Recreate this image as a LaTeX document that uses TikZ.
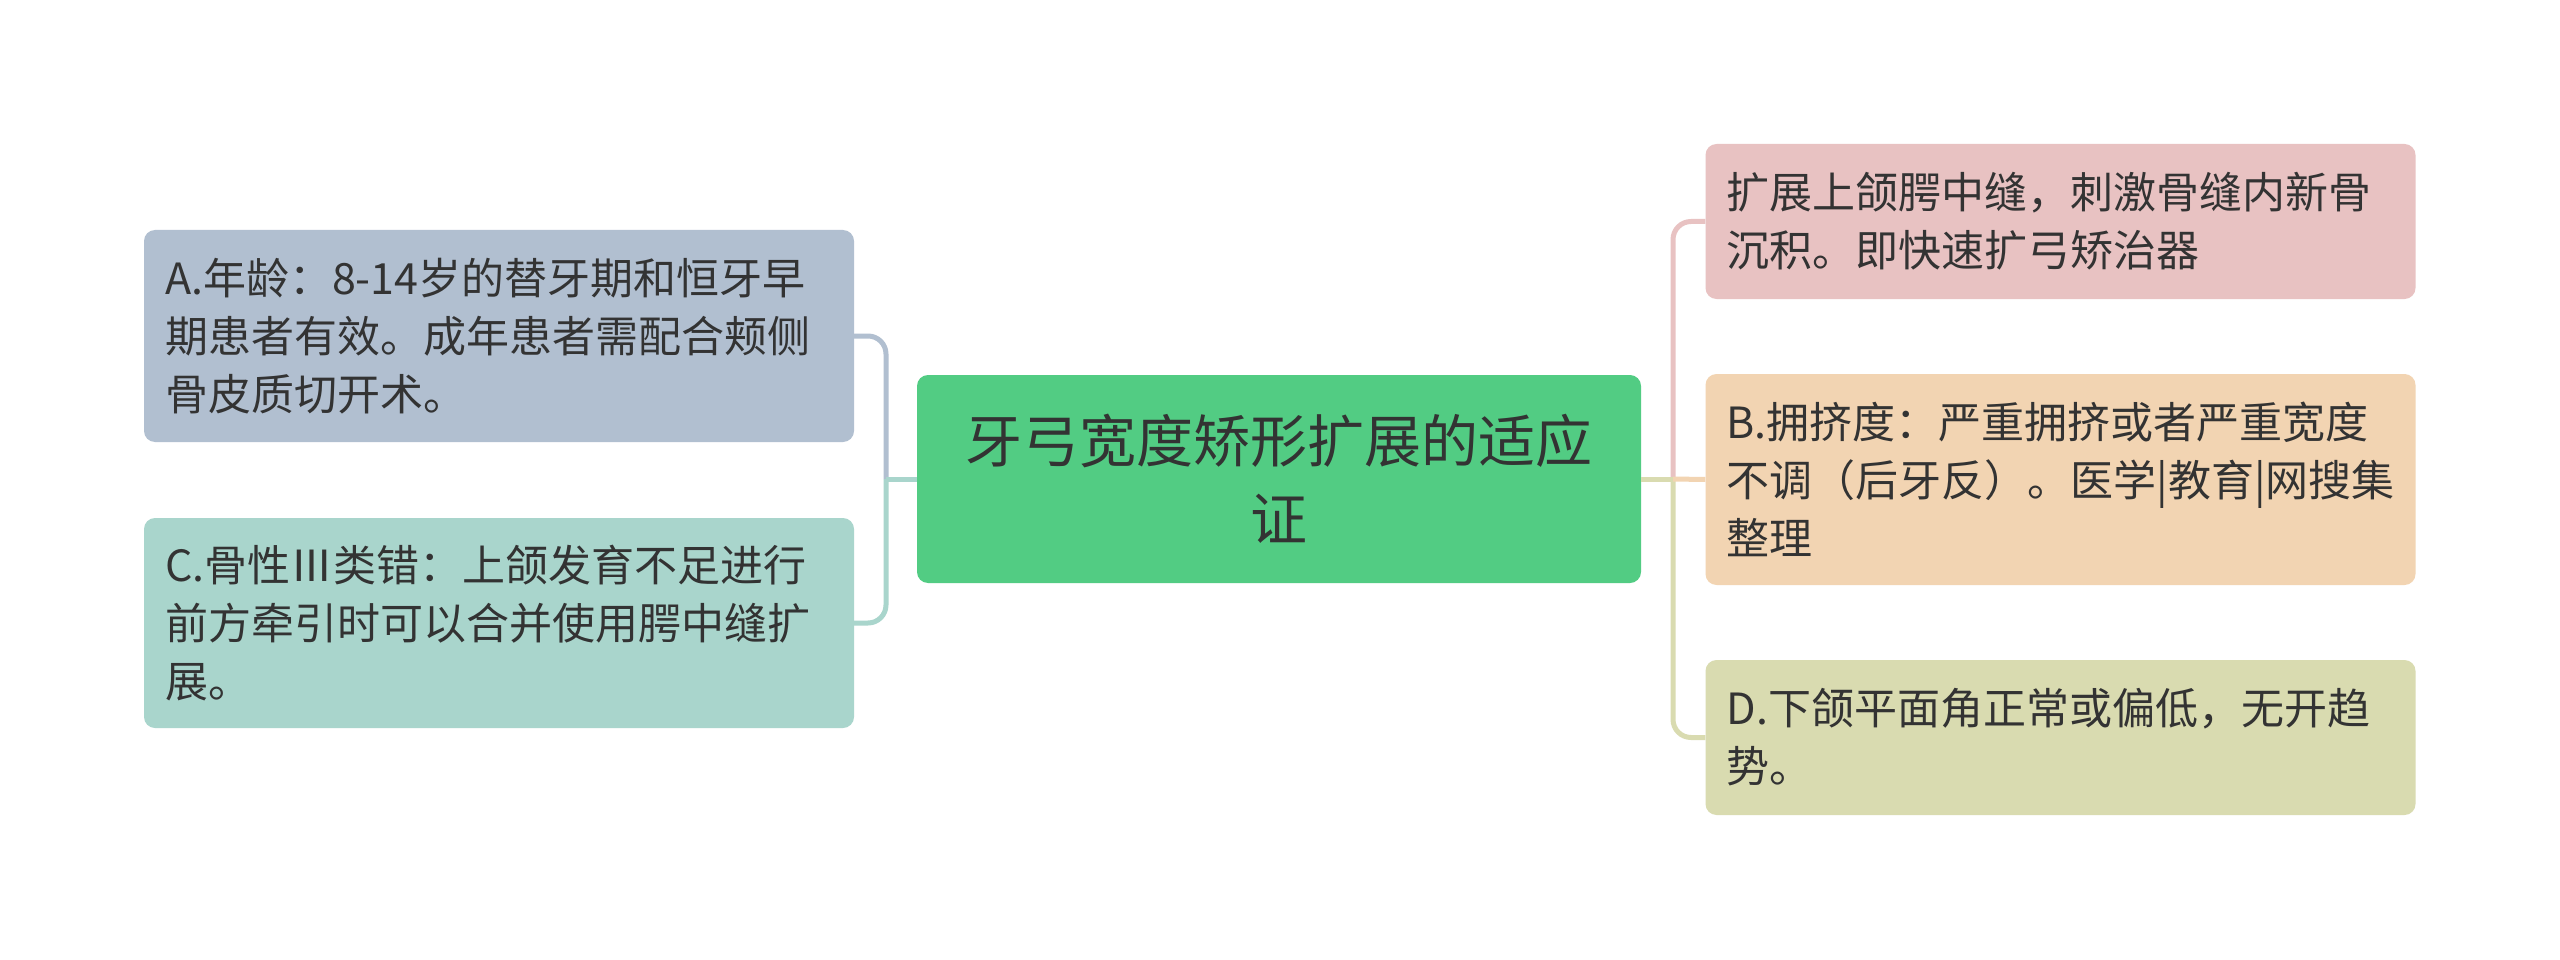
\documentclass[tikz,border=0pt]{standalone}
\usepackage{fontspec}
\setmainfont{Noto Sans CJK SC}
\definecolor{cgreen}{HTML}{52CC83}
\definecolor{ca}{HTML}{B1BFD0}
\definecolor{cc}{HTML}{A9D5CC}
\definecolor{cr}{HTML}{E8C2C2}
\definecolor{cb}{HTML}{F2D4B2}
\definecolor{cd}{HTML}{D9DBB0}
\definecolor{ctext}{HTML}{333333}
\tikzset{
  leaf/.style={rounded corners=11pt, minimum width=710pt, text width=668pt, inner xsep=21pt, inner ysep=0pt, align=left, text=ctext, font=\fontsize{43}{58}\selectfont},
  hub/.style={rounded corners=11pt, fill=cgreen, minimum width=724pt, minimum height=208pt, text width=700pt, inner sep=0pt, align=center, text=ctext, font=\fontsize{57}{78}\selectfont},
  link/.style={line width=5pt, rounded corners=18pt}
}
\begin{document}
\begin{tikzpicture}[x=1pt,y=-1pt]
\useasboundingbox[fill=white] (0,0) rectangle (2560,960);
\node[hub] (center) at (1279,479) {牙弓宽度矫形扩展的适应\\证};
\node[leaf, fill=ca, minimum height=212pt] (A) at (499,336) {A.年龄：8-14岁的替牙期和恒牙早\\期患者有效。成年患者需配合颊侧\\骨皮质切开术。};
\node[leaf, fill=cc, minimum height=210pt] (C) at (499,623) {C.骨性Ⅲ类错：上颌发育不足进行\\前方牵引时可以合并使用腭中缝扩\\展。};
\node[leaf, fill=cr, minimum height=155pt] (R) at (2060.5,221.5) {扩展上颌腭中缝，刺激骨缝内新骨\\沉积。即快速扩弓矫治器};
\node[leaf, fill=cb, minimum height=211pt] (B) at (2060.5,479.5) {B.拥挤度：严重拥挤或者严重宽度\\不调（后牙反）。医学|教育|网搜集\\整理};
\node[leaf, fill=cd, minimum height=155pt] (D) at (2060.5,737.5) {D.下颌平面角正常或偏低，无开趋\\势。};
\coordinate (LJ) at (886,479);
\coordinate (RJ) at (1673,479);
\draw[link, ca] (LJ) |- (A.east);
\draw[link, cc] (LJ) |- (C.east);
\draw[link, cc, rounded corners=0pt] (center.west) -- (LJ);
\draw[link, cr] (RJ) |- (R.west);
\draw[link, cd] (RJ) |- (D.west);
\draw[link, cb, rounded corners=0pt] (RJ) -- (B.west);
\draw[link, cd, rounded corners=0pt] (center.east) -- (RJ);
\end{tikzpicture}
\end{document}
